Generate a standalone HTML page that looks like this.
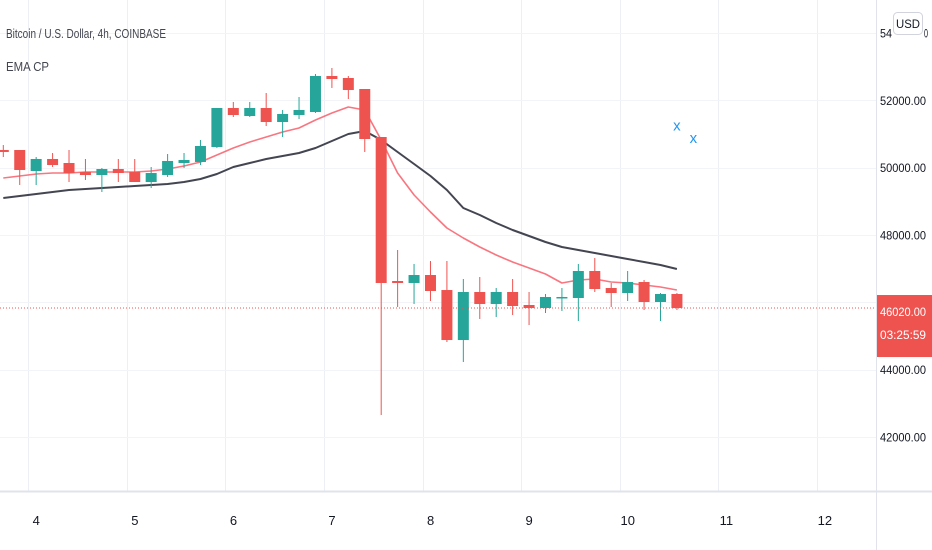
<!DOCTYPE html>
<html><head><meta charset="utf-8">
<style>
html,body{margin:0;padding:0;background:#fff;}
body{width:932px;height:550px;overflow:hidden;font-family:"Liberation Sans",sans-serif;}
svg{display:block}
</style></head>
<body>
<svg id="chart" width="932" height="550" xmlns="http://www.w3.org/2000/svg">
  <g id="grid"></g>
  <g id="emaBlack"></g>
  <g id="emaRed"></g>
  <g id="candles"></g>
  <g id="marks"></g>
  <line x1="876.5" y1="0" x2="876.5" y2="550" stroke="#e0e3eb"/>
  <line x1="0" y1="491.5" x2="932" y2="491.5" stroke="#e0e3eb" stroke-width="2"/>
  <g id="yaxis"></g>
  <g id="xaxis"></g>
  <text x="6" y="38" font-size="13" fill="#434651" textLength="160" lengthAdjust="spacingAndGlyphs">Bitcoin / U.S. Dollar, 4h, COINBASE</text>
  <text x="6" y="71" font-size="13" fill="#434651" textLength="43" lengthAdjust="spacingAndGlyphs">EMA CP</text>
  <rect x="893.5" y="12.5" width="29" height="22" rx="4" fill="#fff" stroke="#d1d4dc"/>
  <text x="908" y="28" font-size="11.5" fill="#131722" text-anchor="middle" textLength="24" lengthAdjust="spacingAndGlyphs">USD</text>
</svg>
<script>
const opens  = [50523,50523,49899,50256,50137,49869,49780,49958,49869,49572,49780,50137,50167,50612,51771,51533,51771,51355,51563,51652,52722,52663,52336,50909,46630,46571,46808,46362,44876,46303,45947,46303,45917,45827,46125,46125,46927,46422,46273,46600,46006,46244];
const highs  = [50671,50523,50315,50434,50523,50256,49988,50256,50256,50018,50404,50434,50820,51771,51950,51950,52217,51712,52098,52782,52960,52722,52336,50909,47551,47136,47224,47224,46690,46749,46422,46690,46303,46244,46422,47136,47313,46571,46927,46660,46273,46273];
const lows   = [50315,49483,49483,50018,49572,49631,49275,49572,49572,49394,49721,49988,50077,50582,51504,51504,51236,50909,51444,51623,52366,52039,50464,42647,45858,45947,46036,44817,44222,45501,45560,45620,45322,45679,45738,45441,46303,45858,46036,45768,45441,45768];
const closes = [50464,49929,50256,50077,49839,49780,49958,49839,49572,49839,50197,50226,50642,51771,51563,51771,51355,51593,51712,52722,52633,52306,50850,46571,46571,46808,46333,44876,46303,45947,46303,45887,45827,46155,46155,46927,46392,46273,46600,46006,46244,45827];
const emaFast = [49691,49750,49810,49839,49839,49869,49869,49869,49869,49899,49958,50047,50167,50374,50582,50761,50909,51058,51177,51415,51623,51801,51712,50820,49839,49186,48680,48205,47908,47640,47403,47195,47017,46838,46571,46660,46690,46600,46571,46511,46452,46362];
const emaSlow = [49096,49156,49215,49275,49334,49364,49394,49423,49453,49483,49512,49572,49661,49810,50018,50137,50256,50345,50434,50582,50790,50999,51088,50820,50464,50107,49750,49334,48800,48591,48353,48145,47967,47789,47640,47551,47462,47373,47284,47195,47106,46987];
const markIdx = [41,42];
const markVal = [51250,50880];
const priceTicks = [52000,50000,48000,44000,42000];
const gridTicks = [54000,52000,50000,48000,46000,44000,42000];
const dayLabels = ["4","5","6","7","8","9","10","11","12"];
const dayIdx = [1.52,7.52,13.52,19.52,25.52,31.52,37.52,43.52,49.52];
const lastPriceText = "46020.00";
const countdownText = "03:25:59";

const NS="http://www.w3.org/2000/svg";
function xS(i){return 3.3+i*16.43;}
function yS(p){return 33+(54000-p)*0.03365;}
function mk(tag,attrs,parent){const e=document.createElementNS(NS,tag);for(const k in attrs)e.setAttribute(k,attrs[k]);parent.appendChild(e);return e;}

const grid=document.getElementById('grid');
dayIdx.forEach((d,k)=>{
  const x=Math.round(xS(d))+0.5;
  const l=mk('line',{x1:x,y1:0,x2:x,y2:491,stroke:'#eceff5'},grid);
  
  
});
gridTicks.forEach(p=>{
  const y=Math.round(yS(p))+0.5;
  const l=mk('line',{x1:0,y1:y,x2:876,y2:y,stroke:'#f3f4f8'},grid);
  
  
});

function linePath(vals){return vals.map((v,i)=>(i?'L':'M')+xS(i).toFixed(1)+','+yS(v).toFixed(1)).join(' ');}
const eb=mk('path',{d:linePath(emaSlow),fill:'none',stroke:'#434651',"stroke-width":2,"stroke-linejoin":"round"},document.getElementById('emaBlack'));


const er=mk('path',{d:linePath(emaFast),fill:'none',stroke:'#f7525f',"stroke-width":1.6,"stroke-linejoin":"round","stroke-opacity":0.8},document.getElementById('emaRed'));



const cg=document.getElementById('candles');
opens.forEach((o,i)=>{
  const c=closes[i],x=xS(i);
  const col=c>=o?'#26a69a':'#ef5350';
  const g=mk('g',{},cg);
  
  
  mk('line',{x1:x,y1:yS(highs[i]),x2:x,y2:yS(lows[i]),stroke:col,"stroke-width":1},g);
  const top=yS(Math.max(o,c)),bot=yS(Math.min(o,c));
  mk('rect',{x:x-5.5,y:top,width:11,height:Math.max(1.5,bot-top),fill:col},g);
});

const mg=document.getElementById('marks');
markIdx.forEach((m,k)=>{
  const t=mk('text',{x:xS(m),y:yS(markVal[k])+5,"font-size":15,fill:'#2196f3',"text-anchor":'middle'},mg);
  
  
  t.textContent='x';
});

const lastY=yS(closes[closes.length-1]);
const pl=mk('line',{x1:0,y1:lastY,x2:876,y2:lastY,stroke:'#ef5350',"stroke-dasharray":'1 2'},mg);



const ya=document.getElementById('yaxis');
priceTicks.forEach(p=>{
  const t=mk('text',{x:880,y:yS(p)+4.5,"font-size":12,fill:'#131722',textLength:46,lengthAdjust:'spacingAndGlyphs'},ya);
  
  
  t.textContent=p.toFixed(2);
});
const t54=mk('text',{x:880,y:yS(54000)+4.5,"font-size":12,fill:'#131722',textLength:12,lengthAdjust:'spacingAndGlyphs'},ya);


t54.textContent='54';
const t54b=mk('text',{x:924,y:yS(54000)+4.5,"font-size":12,fill:'#131722',textLength:4,lengthAdjust:'spacingAndGlyphs'},ya);


t54b.textContent='0';
const lb=mk('rect',{x:877,y:lastY-13,width:55,height:62,fill:'#ef5350'},ya);


const lt=mk('text',{x:880,y:lastY+8,"font-size":12,fill:'#fff',textLength:46,lengthAdjust:'spacingAndGlyphs'},ya);


lt.textContent=lastPriceText;
const ct=mk('text',{x:880,y:lastY+31,"font-size":12,fill:'#fff',textLength:46,lengthAdjust:'spacingAndGlyphs'},ya);


ct.textContent=countdownText;

const xa=document.getElementById('xaxis');
dayIdx.forEach((d,k)=>{
  const t=mk('text',{x:xS(d)+8,y:525,"font-size":13,fill:'#131722',"text-anchor":'middle'},xa);
  
  
  t.textContent=dayLabels[k];
});
</script>
</body></html>
